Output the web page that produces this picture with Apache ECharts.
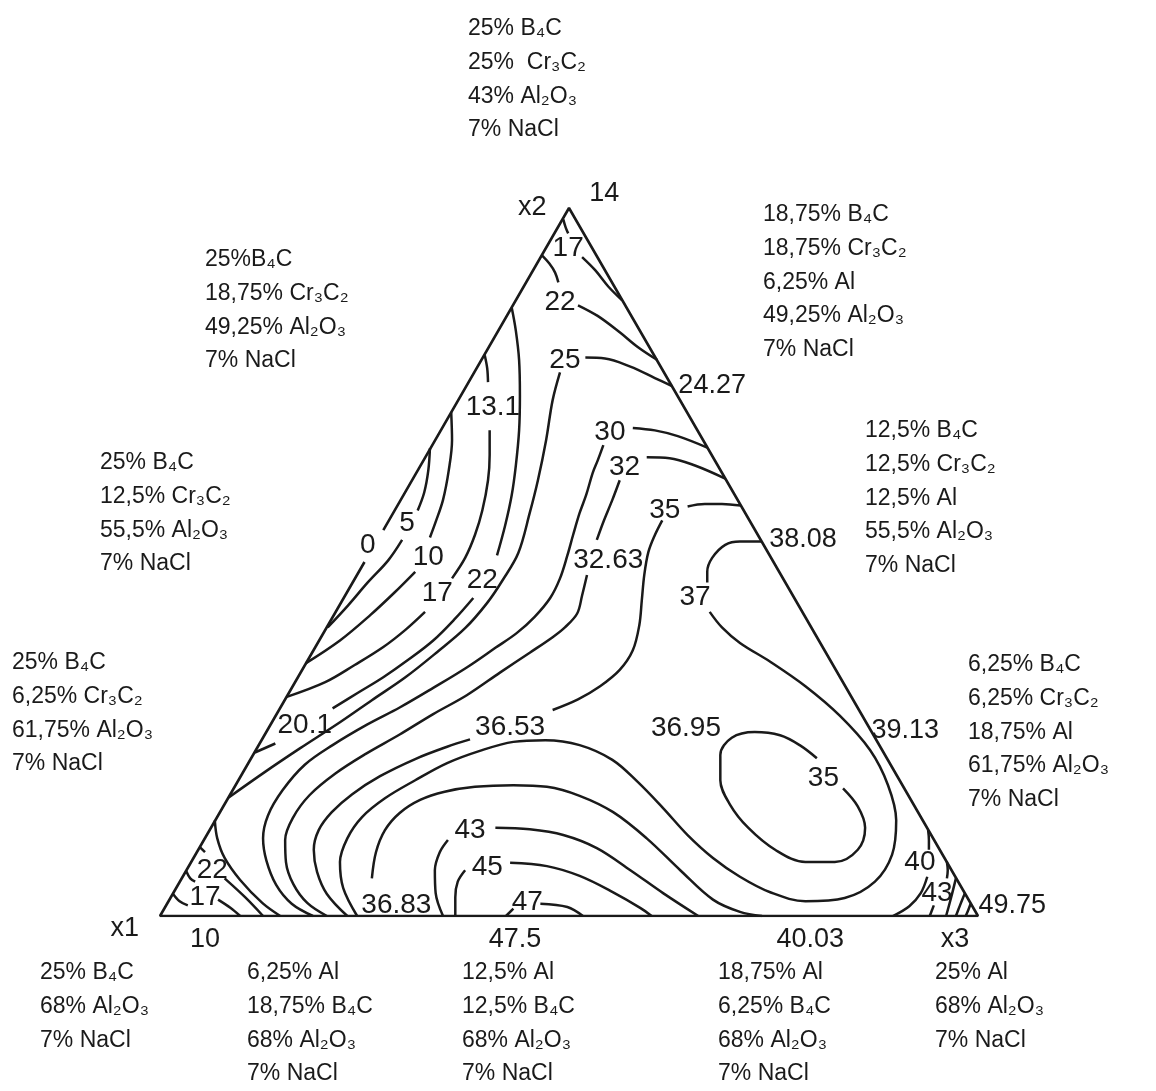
<!DOCTYPE html>
<html>
<head>
<meta charset="utf-8">
<script src="https://cdn.jsdelivr.net/npm/echarts@6/dist/echarts.min.js"></script>
<style>
  html, body { margin: 0; padding: 0; background: #ffffff; }
  #chart { width: 1156px; height: 1091px; }
</style>
</head>
<body>
<div id="chart"></div>
<script>
// Ternary diagram drawn on a hidden cartesian plane:
// u = position along the x1 -> x3 base (0..100), v = height (x2 apex at 86.6).

// Triangle outline (left edge broken where the "0" label sits on it)
const triangleEdge = [[27.3, 47.2], [50, 86.6], [100, 0], [0, 0], [25.0, 43.3]];

// Iso-lines, split where a value label interrupts them
const c17Top = [[49.3, 85.2], [49.6, 84.2], [49.9, 83.5]];
const c17Right = [[51.6, 80.6], [53.2, 79.0], [54.8, 77.0], [56.5, 75.3]];
const c22Top = [[46.7, 80.8], [47.6, 79.8], [48.3, 78.7], [48.7, 77.5]];
const c22Right = [[51.1, 74.7], [53.5, 73.4], [56.2, 71.4], [58.4, 69.6], [60.8, 68.0]];
const c25Right = [[52.0, 68.3], [54.4, 68.2], [57.5, 67.2], [60.5, 65.8], [62.6, 64.8]];
const c25Left = [[48.9, 66.5], [48.0, 63.1], [47.2, 58.2], [46.2, 53.3], [45.2, 49.3], [43.8, 44.4],
  [41.9, 41.1], [40.0, 38.3], [37.3, 35.2], [33.9, 32.3], [30.0, 29.2], [25.9, 26.4], [22.0, 23.7],
  [17.1, 20.5], [12.8, 17.6], [8.4, 14.5]];
const c13Top = [[39.7, 68.6], [40.0, 67.0], [40.1, 65.3]];
const c13Mid = [[40.3, 59.4], [40.3, 56.4], [40.1, 53.3], [39.4, 49.6], [38.5, 46.6], [37.3, 43.8], [35.7, 41.3]];
const c13Low = [[32.4, 37.2], [30.0, 35.0], [27.3, 32.9], [23.8, 30.7], [20.2, 28.6], [15.5, 26.8]];
const c22Long = [[43.0, 74.4], [43.5, 71.6], [43.9, 68.0], [44.0, 63.7], [43.9, 59.4], [43.5, 55.1],
  [43.0, 51.5], [42.2, 47.8], [41.2, 44.1]];
const c22Low = [[38.3, 38.9], [36.1, 36.4], [33.4, 33.7], [30.3, 31.3], [27.3, 29.2], [24.2, 27.3], [21.1, 25.4]];
const c22Tail = [[14.1, 21.1], [11.6, 20.0]];
const c10Top = [[35.6, 61.6], [35.7, 58.2], [35.3, 54.5], [34.6, 50.9], [33.7, 48.2], [33.0, 46.3]];
const c10Low = [[31.2, 42.1], [28.7, 39.6], [25.7, 36.8], [22.0, 33.7], [17.8, 30.9]];
const c5Top = [[33.0, 57.2], [32.8, 54.5], [32.3, 51.8], [31.5, 49.6]];
const c5Low = [[29.6, 46.0], [27.9, 43.5], [25.4, 40.8], [23.0, 38.0], [20.5, 35.3]];
const c30Right = [[57.8, 59.7], [60.5, 59.4], [63.3, 58.7], [66.9, 57.3]];
const c30Left = [[54.2, 57.6], [53.5, 55.7], [52.9, 54.2], [52.1, 51.5], [51.3, 49.3], [50.5, 46.6],
  [49.8, 44.1], [48.9, 41.3], [47.7, 38.9], [45.8, 36.6], [43.6, 34.6], [41.0, 32.8], [37.5, 30.4],
  [33.4, 27.9], [29.3, 25.5], [25.3, 23.4], [21.1, 20.9], [17.7, 18.5], [15.0, 15.4], [13.2, 12.3],
  [12.6, 9.5], [13.0, 6.8], [14.2, 3.8], [16.1, 1.5], [18.7, 0]];
const c32Right = [[59.5, 56.1], [62.3, 56.0], [65.4, 55.1], [69.1, 53.5]];
const c32Top = [[56.2, 53.3], [55.3, 50.9], [54.2, 48.2], [53.4, 46.0]];
const c32Low = [[52.2, 41.7], [51.6, 39.2], [51.0, 37.0], [49.5, 35.3], [48.0, 34.1], [45.2, 32.2],
  [41.6, 29.8], [37.5, 27.0], [33.4, 24.7], [29.3, 22.2], [25.1, 19.8], [21.4, 17.4], [18.3, 14.8],
  [16.3, 12.1], [15.3, 9.3], [15.4, 6.6], [16.3, 3.9], [18.0, 1.6], [20.4, 0]];
const cEdgeLoop = [[6.7, 11.7], [7.0, 9.5], [7.9, 7.1], [9.8, 4.4], [12.5, 1.6], [14.7, 0]];
const c35Right = [[64.5, 50.1], [66.6, 50.4], [68.7, 50.4], [71.0, 50.2]];
const c35Left = [[61.4, 48.4], [60.5, 46.6], [59.7, 44.5], [59.2, 41.7], [58.9, 38.6], [58.6, 35.6],
  [57.8, 32.5], [56.2, 30.1], [53.8, 28.1], [51.1, 26.5], [48.0, 25.2]];
const c35Low = [[37.9, 21.6], [35.1, 20.7], [31.2, 19.2], [26.9, 17.1], [23.5, 14.9], [21.0, 12.7],
  [19.4, 10.5], [18.8, 8.1], [19.2, 5.4], [20.4, 2.7], [22.9, 0]];
const c37Top = [[73.5, 45.8], [70.9, 45.8], [69.1, 45.4], [67.5, 43.8], [66.9, 42.1], [66.9, 40.8]];
const c37Loop = [[67.2, 37.2], [68.7, 35.3], [70.9, 33.4], [74.6, 31.1], [78.9, 28.1], [83.1, 24.5],
  [86.8, 20.3], [89.0, 16.0], [90.0, 11.7], [89.5, 7.5], [87.4, 4.2], [83.7, 2.2], [78.9, 1.8],
  [74.6, 2.9], [70.9, 4.8], [67.6, 7.1], [64.5, 9.9], [61.5, 13.2], [58.4, 16.4], [55.3, 19.1],
  [51.3, 20.9], [47.1, 21.5], [43.2, 21.3], [39.1, 20.2], [35.1, 18.7], [31.2, 16.6], [27.5, 14.4],
  [24.7, 12.1], [22.9, 9.5], [22.0, 6.6], [22.4, 3.4], [24.1, 0]];
const c3683 = [[25.9, 4.6], [26.4, 7.8], [27.5, 10.5], [29.3, 12.6], [31.8, 14.2], [34.8, 15.2],
  [38.5, 15.8], [43.2, 16.0], [47.3, 15.8], [51.3, 14.7], [55.4, 12.7], [59.5, 9.5], [63.6, 5.6],
  [67.6, 2.0], [70.9, 0.5], [73.6, 0]];
const cEllipse = [[83.5, 15.6], [85.3, 13.4], [86.2, 10.8], [85.3, 8.1], [82.5, 6.6], [78.9, 6.6],
  [75.2, 8.1], [71.9, 10.8], [69.7, 13.6], [68.5, 16.6], [68.5, 19.7], [69.9, 21.8], [72.7, 22.5],
  [75.8, 22.1], [78.2, 20.9], [80.3, 19.3]];
const c43Left = [[34.6, 0], [33.7, 2.8], [33.6, 5.6], [34.2, 7.8], [35.2, 9.3]];
const c43Right = [[41.0, 10.8], [45.2, 10.6], [49.3, 9.9], [53.4, 8.3], [57.5, 5.6], [61.5, 2.8], [65.8, 0]];
const c45Left = [[36.1, 0], [36.1, 2.3], [36.4, 4.2], [37.3, 5.6]];
const c45Right = [[42.8, 6.5], [47.3, 6.1], [51.3, 4.9], [55.4, 2.9], [58.7, 1.0], [60.1, 0]];
const c47Left = [[42.3, 0], [43.2, 0.9]];
const c47Right = [[46.5, 1.5], [49.8, 1.1], [51.7, 0]];
const c40Top = [[93.9, 10.5], [94.0, 9.3], [94.0, 8.1]];
const c40Low = [[93.8, 4.8], [93.0, 2.8], [91.6, 1.2], [89.6, 0]];
const c43cTop = [[96.2, 6.6], [96.3, 5.6], [96.2, 4.6]];
const c43cLow = [[94.6, 1.3], [94.1, 0]];
const cCornerA = [[97.3, 4.6], [96.7, 2.2], [96.1, 0]];
const cCornerB = [[98.4, 2.8], [97.8, 1.3], [97.3, 0]];
const cCornerC = [[99.1, 1.5], [98.8, 0.7], [98.5, 0]];
const c17Base = [[1.6, 2.7], [2.4, 1.8], [3.4, 1.3]];
const c17BaseRight = [[7.1, 2.0], [8.6, 1.0], [9.8, 0]];
const c22Base = [[3.2, 5.5], [3.7, 4.6], [4.3, 4.2]];
const c22BaseRight = [[7.9, 4.6], [10.4, 2.3], [12.6, 0]];
const cEdgeTick = [[4.9, 8.4], [5.5, 7.8]];

// Value labels: [u, v, text]
const contourLabels = [
  [49.9, 81.7, '17'], [48.9, 75.1, '22'], [49.5, 68.0, '25'], [40.7, 62.2, '13.1'],
  [55.0, 59.2, '30'], [56.8, 54.9, '32'], [61.7, 49.6, '35'], [54.8, 43.5, '32.63'],
  [65.4, 39.0, '37'], [25.4, 45.4, '0'], [30.2, 48.0, '5'], [32.8, 43.9, '10'],
  [33.9, 39.5, '17'], [39.4, 41.1, '22'], [17.7, 23.3, '20.1'], [42.8, 23.1, '36.53'],
  [64.3, 22.9, '36.95'], [81.1, 16.9, '35'], [37.9, 10.5, '43'], [40.0, 6.0, '45'],
  [44.9, 1.7, '47'], [28.9, 1.3, '36.83'], [6.4, 5.6, '22'], [5.5, 2.3, '17'],
  [92.9, 6.6, '40'], [95.0, 2.8, '43']
];
const vertexLabels = [
  [54.3, 88.4, '14'], [45.5, 86.6, 'x2'], [67.5, 64.9, '24.27'], [78.6, 46.0, '38.08'],
  [91.1, 22.7, '39.13'], [104.2, 1.3, '49.75'], [-4.3, -1.5, 'x1'], [5.5, -2.9, '10'],
  [43.4, -2.9, '47.5'], [79.5, -2.9, '40.03'], [97.2, -2.9, 'x3']
];

// Mixture compositions printed around the diagram
const compTop = ['25% B₄C', '25%  Cr₃C₂', '43% Al₂O₃', '7% NaCl'];
const compRightTop = ['18,75% B₄C', '18,75% Cr₃C₂', '6,25% Al', '49,25% Al₂O₃', '7% NaCl'];
const compLeftTop = ['25%B₄C', '18,75% Cr₃C₂', '49,25% Al₂O₃', '7% NaCl'];
const compLeftMid = ['25% B₄C', '12,5% Cr₃C₂', '55,5% Al₂O₃', '7% NaCl'];
const compRightMid = ['12,5% B₄C', '12,5% Cr₃C₂', '12,5% Al', '55,5% Al₂O₃', '7% NaCl'];
const compLeftLow = ['25% B₄C', '6,25% Cr₃C₂', '61,75% Al₂O₃', '7% NaCl'];
const compRightLow = ['6,25% B₄C', '6,25% Cr₃C₂', '18,75% Al', '61,75% Al₂O₃', '7% NaCl'];
const compBase1 = ['25% B₄C', '68% Al₂O₃', '7% NaCl'];
const compBase2 = ['6,25% Al', '18,75% B₄C', '68% Al₂O₃', '7% NaCl'];
const compBase3 = ['12,5% Al', '12,5% B₄C', '68% Al₂O₃', '7% NaCl'];
const compBase4 = ['18,75% Al', '6,25% B₄C', '68% Al₂O₃', '7% NaCl'];
const compBase5 = ['25% Al', '68% Al₂O₃', '7% NaCl'];

const isoLines = [c17Top, c17Right, c22Top, c22Right, c25Right, c25Left, c13Top, c13Mid, c13Low,
  c22Long, c22Low, c22Tail, c10Top, c10Low, c5Top, c5Low, c30Right, c30Left, c32Right, c32Top,
  c32Low, cEdgeLoop, c35Right, c35Left, c35Low, c37Top, c37Loop, c3683, cEllipse, c43Left,
  c43Right, c45Left, c45Right, c47Left, c47Right, c40Top, c40Low, c43cTop, c43cLow, cCornerA,
  cCornerB, cCornerC, c17Base, c17BaseRight, c22Base, c22BaseRight, cEdgeTick];

const INK = '#1a1a1a';
const FONT = '"Liberation Sans", Arial, Helvetica, sans-serif';

const series = [];
series.push({
  type: 'line', data: triangleEdge, symbol: 'none', smooth: false, silent: true,
  lineStyle: { color: INK, width: 2.6 }, z: 3
});
isoLines.forEach(function (pts) {
  series.push({
    type: 'line', data: pts, symbol: 'none', smooth: 0.35, silent: true,
    lineStyle: { color: INK, width: 2.5 }, z: 2
  });
});
function labelSeries(list, size) {
  return {
    type: 'scatter', silent: true, clip: false, symbolSize: 0, z: 5,
    itemStyle: { color: INK, opacity: 1 },
    data: list.map(function (d) { return { value: [d[0], d[1]], name: d[2] }; }),
    label: {
      show: true, position: [0, 0], align: 'center', verticalAlign: 'middle',
      formatter: function (p) { return p.name; },
      color: INK, opacity: 1, fontFamily: FONT, fontSize: size,
      textBorderWidth: 0, textShadowBlur: 0
    }
  };
}
series.push(labelSeries(contourLabels, 28));
series.push(labelSeries(vertexLabels, 27));

// text blocks: [lines, left x, centre y of first line]
const blocks = [
  [compTop, 468, 29], [compRightTop, 763, 215], [compLeftTop, 205, 260], [compLeftMid, 100, 463],
  [compRightMid, 865, 431], [compLeftLow, 12, 663], [compRightLow, 968, 665],
  [compBase1, 40, 973], [compBase2, 247, 973], [compBase3, 462, 973], [compBase4, 718, 973],
  [compBase5, 935, 973]
];
const graphics = [];
blocks.forEach(function (b) {
  b[0].forEach(function (line, i) {
    graphics.push({
      type: 'text', silent: true,
      style: {
        text: line, x: b[1], y: b[2] + i * 33.6, fill: INK,
        font: '23px ' + FONT, align: 'left', verticalAlign: 'middle'
      }
    });
  });
});

const chart = echarts.init(document.getElementById('chart'), null, { renderer: 'canvas' });
chart.setOption({
  animation: false,
  backgroundColor: '#ffffff',
  grid: { left: 160, top: 208, width: 818, height: 708 },
  xAxis: { type: 'value', min: 0, max: 100, show: false },
  yAxis: { type: 'value', min: 0, max: 86.6, show: false },
  graphic: graphics,
  series: series
});
</script>
</body>
</html>
